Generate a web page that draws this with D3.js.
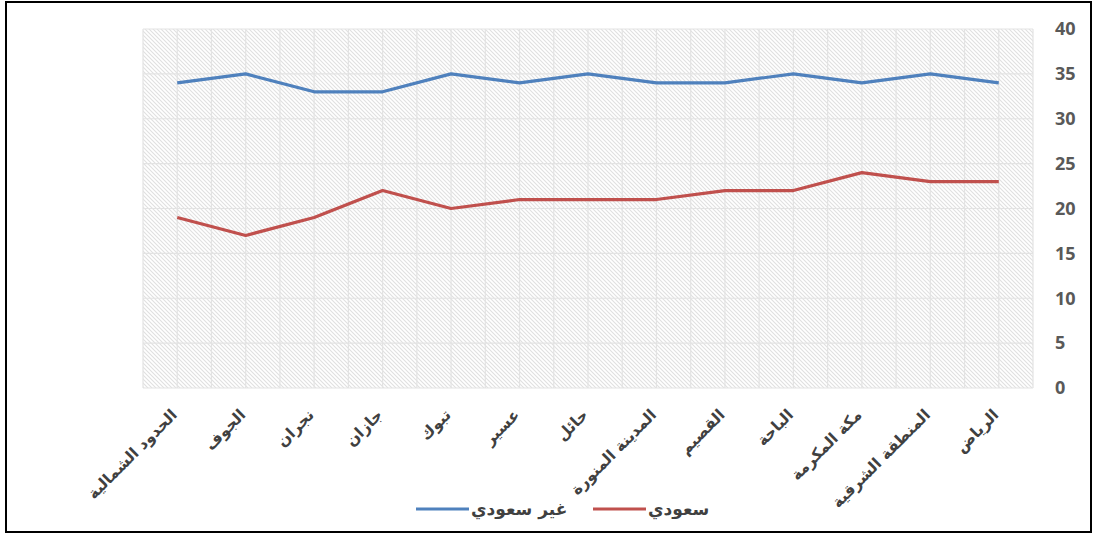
<!DOCTYPE html>
<html>
<head>
<meta charset="utf-8">
<script src="https://cdn.jsdelivr.net/npm/d3@7"></script>
<style>
	body { margin: 0; background: #fff; }
	svg { display: block; }
</style>
</head>
<body>
<script>
var SIZE = { width: 1095, height: 535 };
var PLOT = { left: 143, right: 1033, top: 29, bottom: 388 };

var regions = ['الحدود الشمالية', 'الجوف', 'نجران', 'جازان', 'تبوك', 'عسير', 'حائل',
	'المدينة المنورة', 'القصيم', 'الباحة', 'مكة المكرمة', 'المنطقة الشرقية', 'الرياض'];
var nonSaudi = [34, 35, 33, 33, 35, 34, 35, 34, 34, 35, 34, 35, 34];
var saudi = [19, 17, 19, 22, 20, 21, 21, 21, 22, 22, 24, 23, 23];
var yTicks = [0, 5, 10, 15, 20, 25, 30, 35, 40];

var series = [
	{ name: 'غير سعودي', values: nonSaudi, color: '#4f81bd' },
	{ name: 'سعودي', values: saudi, color: '#c0504d' }
];

var svg = d3.select('body').append('svg')
	.attr('width', SIZE.width)
	.attr('height', SIZE.height);

// diagonal hatch fill of the plot area
var pattern = svg.append('defs').append('pattern')
	.attr('id', 'hatch')
	.attr('patternUnits', 'userSpaceOnUse')
	.attr('width', 4)
	.attr('height', 4);
pattern.append('rect').attr('width', 4).attr('height', 4).attr('fill', '#fff');
pattern.append('path')
	.attr('d', 'M-1,-1 L5,5 M3,-1 L5,1 M-1,3 L1,5')
	.attr('stroke', '#e0e0e0')
	.attr('stroke-width', 1.1);

svg.append('rect')
	.attr('x', 6).attr('y', 2)
	.attr('width', 1085).attr('height', 530)
	.attr('fill', '#fff')
	.attr('stroke', '#000')
	.attr('stroke-width', 2);

var x = d3.scaleBand()
	.domain(regions)
	.range([PLOT.left, PLOT.right]);

var y = d3.scaleLinear()
	.domain([0, 40])
	.range([PLOT.bottom, PLOT.top]);

svg.append('rect')
	.attr('x', PLOT.left).attr('y', PLOT.top)
	.attr('width', PLOT.right - PLOT.left)
	.attr('height', PLOT.bottom - PLOT.top)
	.attr('fill', 'url(#hatch)');

// gridlines: vertical at every half category, horizontal at each y tick
var halfSteps = d3.range(regions.length * 2 + 1);
svg.append('g').selectAll('line')
	.data(halfSteps)
	.enter().append('line')
	.attr('x1', function (d) { return PLOT.left + d * x.bandwidth() / 2; })
	.attr('x2', function (d) { return PLOT.left + d * x.bandwidth() / 2; })
	.attr('y1', PLOT.top).attr('y2', PLOT.bottom)
	.attr('stroke', '#e3e3e3').attr('stroke-width', 1.2);

svg.append('g').selectAll('line')
	.data(yTicks)
	.enter().append('line')
	.attr('x1', PLOT.left).attr('x2', PLOT.right)
	.attr('y1', function (d) { return y(d); })
	.attr('y2', function (d) { return y(d); })
	.attr('stroke', '#e3e3e3').attr('stroke-width', 1.2);

// right y axis labels
var yAxis = svg.append('g')
	.attr('transform', 'translate(' + PLOT.right + ',0)')
	.call(d3.axisRight(y).tickValues(yTicks).tickSize(0).tickPadding(22));
yAxis.select('.domain').remove();
yAxis.selectAll('text')
	.attr('fill', '#595959')
	.style('font-family', '"Open Sans", "Liberation Sans", sans-serif')
	.style('font-weight', 'bold')
	.style('font-size', '18px');

// x labels rotated
var xAxis = svg.append('g')
	.attr('transform', 'translate(-3,' + (PLOT.bottom + 24) + ')')
	.call(d3.axisBottom(x).tickSize(0).tickPadding(0));
xAxis.select('.domain').remove();
xAxis.selectAll('text')
	.attr('fill', '#404040')
	.attr('dy', '0.35em')
	.attr('text-anchor', 'end')
	.attr('transform', 'rotate(-45)')
	.style('font-family', '"DejaVu Sans", sans-serif')
	.style('font-weight', 'bold')
	.style('font-size', '15.5px');

var line = d3.line()
	.x(function (d, i) { return x(regions[i]) + x.bandwidth() / 2; })
	.y(function (d) { return y(d); });

svg.append('g').selectAll('path')
	.data(series)
	.enter().append('path')
	.attr('d', function (s) { return line(s.values); })
	.attr('fill', 'none')
	.attr('stroke', function (s) { return s.color; })
	.attr('stroke-width', 3.2)
	.attr('stroke-linejoin', 'round');

// legend
var legendX = [416, 593];
var legend = svg.append('g').selectAll('g')
	.data(series)
	.enter().append('g')
	.attr('transform', function (s, i) { return 'translate(' + legendX[i] + ',509)'; });
legend.append('line')
	.attr('x1', 0).attr('x2', 53)
	.attr('stroke', function (s) { return s.color; })
	.attr('stroke-width', 3.2);
legend.append('text')
	.attr('x', 55)
	.attr('dy', '0.35em')
	.attr('fill', '#404040')
	.style('font-family', '"DejaVu Sans", sans-serif')
	.style('font-weight', 'bold')
	.style('font-size', '17px')
	.text(function (s) { return s.name; });
</script>
</body>
</html>
